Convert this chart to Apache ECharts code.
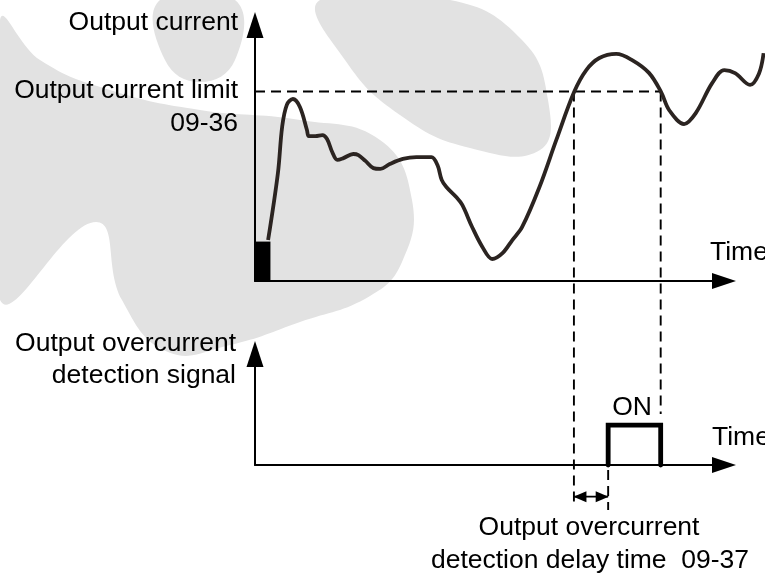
<!DOCTYPE html>
<html><head><meta charset="utf-8">
<script src="https://cdn.jsdelivr.net/npm/echarts@6/dist/echarts.min.js"></script>
<style>html,body{margin:0;padding:0;background:#fff}#c{width:765px;height:573px}</style>
</head><body><div id="c"></div>
<script>
// Time axis in arbitrary units (0..100), current in arbitrary units (0..100)
const currentTime = [2.8, 4.9, 5.8, 6.8, 8.1, 9.6, 11.1, 11.5, 12.9, 14.4, 15.4, 16.5, 17.6, 18.9, 21.0, 22.1, 23.6, 25.3, 26.8, 28.8, 31.6, 34.5, 37.7, 39.0, 39.9, 40.9, 43.0, 44.3, 46.4, 48.6, 50.7, 52.9, 55.0, 57.1, 60.8, 64.4, 68.2, 70.8, 73.6, 77.2, 80.6, 84.2, 86.8, 88.5, 91.7, 94.2, 97.7, 100.3, 102.6, 105.8, 107.7, 108.7];
const currentValue = [16.0, 42.2, 60.2, 68.8, 71.1, 68.0, 59.0, 56.6, 56.6, 57.0, 55.5, 50.4, 47.3, 48.0, 49.6, 49.2, 46.9, 44.1, 43.8, 45.7, 47.7, 48.4, 48.4, 45.3, 39.5, 36.7, 32.8, 29.7, 21.1, 13.3, 8.6, 10.9, 16.0, 21.1, 36.7, 55.1, 73.8, 82.4, 87.1, 88.7, 86.3, 81.3, 73.8, 66.8, 61.3, 65.6, 77.3, 82.4, 81.2, 76.6, 81.0, 89.0];
const currentLimit = 74;
const limitOnTime = 68;     // current rises above limit
const limitOffTime = 86.5;  // current falls below limit
const signalOnTime = 75.3;  // signal turns ON after delay
const signalLevel = 36;     // ON level of detection signal
const startBlock = [3.3, 15.4]; // initial block [time, current]
const dropEnds = [-88, -52];    // how far the drop lines reach (top-chart units)
const delayTick = [-4.5, -40.5]; // delay marker extent (bottom-chart units)
const delayArrowLevel = -28.5;
const labels = {
  yTop: 'Output current',
  limit1: 'Output current limit',
  limit2: '09-36',
  yBot1: 'Output overcurrent',
  yBot2: 'detection signal',
  time: 'Time',
  on: 'ON',
  delay1: 'Output overcurrent',
  delay2: 'detection delay time  09-37'
};

const chart = echarts.init(document.getElementById('c'), null, {renderer: 'canvas'});
const FONT = '"Liberation Sans", Arial, sans-serif';
const FS = 26.5;
const black = '#000';

function axisStyle(grid, size, max) {
  return {
    gridIndex: grid, type: 'value', min: 0, max: max || 100,
    axisLine: {show: !!size, onZero: false, symbol: ['none', 'triangle'], symbolSize: size || [10, 10],
      lineStyle: {color: black, width: 2}},
    axisTick: {show: false}, axisLabel: {show: false}, splitLine: {show: false}
  };
}
function txt(text, x, y, align) {
  return {type: 'text', x: x, y: y, z: 100, silent: true,
    style: {text: text, fill: black, fontSize: FS, fontFamily: FONT, align: align, verticalAlign: 'middle'}};
}
const wm = '#e2e2e2';
function blob(points) {
  return {type: 'polygon', z: -100, silent: true, shape: {points: points, smooth: 0.45}, style: {fill: wm}};
}
const dash = {color: black, width: 1.9, type: [10, 6]};

chart.setOption({
  animation: false,
  backgroundColor: '#fff',
  grid: [
    {left: 255, width: 469, top: 25, height: 256},
    {left: 255, width: 469, top: 354, height: 111},
    {left: 255, width: 511, top: 25, height: 256}
  ],
  xAxis: [axisStyle(0, [16, 24]), axisStyle(1, [16, 24]), axisStyle(2, null, 109)],
  yAxis: [axisStyle(0, [17, 26]), axisStyle(1, [17, 26]), axisStyle(2, null)],
  graphic: [
    blob([[0,20],[40,60],[110,90],[200,110],[300,120],[380,140],[412,200],[402,262],[370,296],[300,322],[230,345],[168,352],[122,300],[96,222],[0,300]]),
    blob([[320,0],[450,0],[522,40],[548,100],[540,150],[470,148],[400,115],[345,60]]),
    blob([[160,0],[235,0],[235,60],[200,82],[165,60]]),
    txt(labels.yTop, 238, 23, 'right'),
    txt(labels.limit1, 238, 91, 'right'),
    txt(labels.limit2, 238, 124, 'right'),
    txt(labels.yBot1, 236, 344, 'right'),
    txt(labels.yBot2, 236, 376, 'right'),
    txt(labels.time, 710, 253, 'left'),
    txt(labels.time, 712, 438, 'left'),
    txt(labels.on, 632, 408, 'center'),
    txt(labels.delay1, 589, 528, 'center'),
    txt(labels.delay2, 590, 561, 'center')
  ],
  series: [
    {
      name: 'Output current', type: 'line', xAxisIndex: 2, yAxisIndex: 2,
      data: currentTime.map((t, i) => [t, currentValue[i]]),
      smooth: 0.35, showSymbol: false, clip: false, z: 5,
      lineStyle: {color: '#2b2421', width: 3.8},
      markArea: {silent: true, itemStyle: {color: black},
        data: [[{coord: [0, 0]}, {coord: startBlock}]]}
    },
    {
      name: 'limit', type: 'line', xAxisIndex: 0, yAxisIndex: 0, showSymbol: false, clip: false,
      data: [[0, currentLimit], [limitOffTime, currentLimit]], lineStyle: dash
    },
    {
      name: 'dropOn', type: 'line', xAxisIndex: 0, yAxisIndex: 0, showSymbol: false, clip: false,
      data: [[limitOnTime, currentLimit], [limitOnTime, dropEnds[0]]], lineStyle: dash
    },
    {
      name: 'dropOff', type: 'line', xAxisIndex: 0, yAxisIndex: 0, showSymbol: false, clip: false,
      data: [[limitOffTime, currentLimit], [limitOffTime, dropEnds[1]]], lineStyle: dash
    },
    {
      name: 'signal', type: 'line', xAxisIndex: 1, yAxisIndex: 1, showSymbol: false, clip: false, z: 6,
      data: [[signalOnTime, 0], [signalOnTime, signalLevel], [limitOffTime, signalLevel], [limitOffTime, 0]],
      lineStyle: {color: black, width: 4.8, cap: 'round', join: 'miter'}
    },
    {
      name: 'delayTick', type: 'line', xAxisIndex: 1, yAxisIndex: 1, showSymbol: false, clip: false,
      data: [[signalOnTime, delayTick[0]], [signalOnTime, delayTick[1]]], lineStyle: dash
    },
    {
      name: 'delayArrow', type: 'line', xAxisIndex: 1, yAxisIndex: 1, clip: false,
      symbol: 'triangle', symbolSize: [11, 13], showSymbol: true,
      itemStyle: {color: black},
      data: [
        {value: [limitOnTime, delayArrowLevel], symbolRotate: 90, symbolOffset: [6, 0]},
        {value: [signalOnTime, delayArrowLevel], symbolRotate: -90, symbolOffset: [-6, 0]}
      ],
      lineStyle: {color: black, width: 1.8}
    }
  ]
});
</script></body></html>
